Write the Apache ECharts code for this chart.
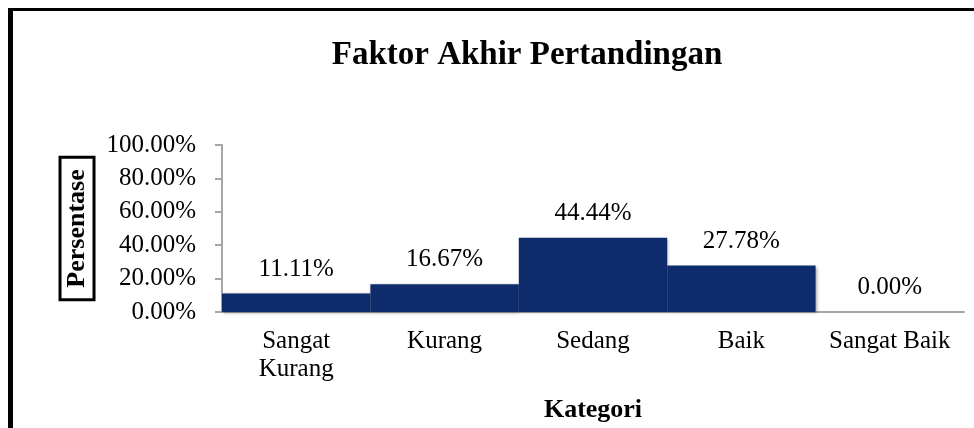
<!DOCTYPE html>
<html>
<head>
<meta charset="utf-8">
<title>Faktor Akhir Pertandingan</title>
<script src="https://cdn.jsdelivr.net/npm/echarts@6/dist/echarts.min.js"></script>
<style>
  html, body { margin: 0; padding: 0; background: #fff; }
  #chart { width: 974px; height: 428px; }
</style>
</head>
<body>
<div id="chart"></div>
<script>
// data
var categories = ['Sangat\nKurang', 'Kurang', 'Sedang', 'Baik', 'Sangat Baik'];
var persen = [11.11, 16.67, 44.44, 27.78, 0.00];
var yTicks = [0, 20, 40, 60, 80, 100];

var serif = '"Liberation Serif", "Times New Roman", serif';

var chart = echarts.init(document.getElementById('chart'));
chart.setOption({
    animation: false,
    title: {
        text: 'Faktor Akhir Pertandingan',
        left: 522,
        textAlign: 'center',
        top: 34,
        textStyle: { fontFamily: serif, fontWeight: 'bold', fontSize: 33, color: '#000' }
    },
    grid: { left: 222, right: 10, top: 145, bottom: 116 },
    // frame lines: left and top only, the rest is cut off
    graphic: [
        { type: 'rect', shape: { x: 8, y: 8, width: 5, height: 420 }, style: { fill: '#000' } },
        { type: 'rect', shape: { x: 8, y: 8, width: 966, height: 3 }, style: { fill: '#000' } }
    ],
    xAxis: {
        type: 'category',
        data: categories,
        name: 'Kategori',
        nameLocation: 'middle',
        nameGap: 85,
        nameTextStyle: { fontFamily: serif, fontWeight: 'bold', fontSize: 26, color: '#000' },
        axisLine: { lineStyle: { color: '#a6a6a6', width: 2 } },
        axisTick: { show: false },
        axisLabel: { fontFamily: serif, fontSize: 25, color: '#000', lineHeight: 28, margin: 15, interval: 0 }
    },
    yAxis: {
        type: 'value',
        min: yTicks[0],
        max: yTicks[yTicks.length - 1],
        interval: 20,
        name: 'Persentase',
        nameLocation: 'middle',
        nameRotate: 90,
        nameGap: 122,
        nameTextStyle: {
            fontFamily: serif, fontWeight: 'bold', fontSize: 26, color: '#000',
            borderColor: '#000', borderWidth: 3, padding: [2, 12, 2, 12], lineHeight: 30
        },
        axisLine: { show: true, lineStyle: { color: '#a6a6a6', width: 2 } },
        axisTick: { show: true, length: 7, lineStyle: { color: '#a6a6a6', width: 2 } },
        splitLine: { show: false },
        axisLabel: {
            fontFamily: serif, fontSize: 25, color: '#000', margin: 26,
            formatter: function (v) { return v.toFixed(2) + '%'; }
        }
    },
    series: [{
        type: 'bar',
        data: persen,
        barCategoryGap: 0,
        itemStyle: {
            color: '#0e2c6c',
            shadowColor: 'rgba(0,0,0,0.35)', shadowBlur: 3, shadowOffsetX: 1, shadowOffsetY: 1
        },
        label: {
            show: true,
            position: 'top',
            distance: 12,
            fontFamily: serif, fontSize: 25, color: '#000',
            formatter: function (p) { return p.value.toFixed(2) + '%'; }
        }
    }]
});
</script>
</body>
</html>
